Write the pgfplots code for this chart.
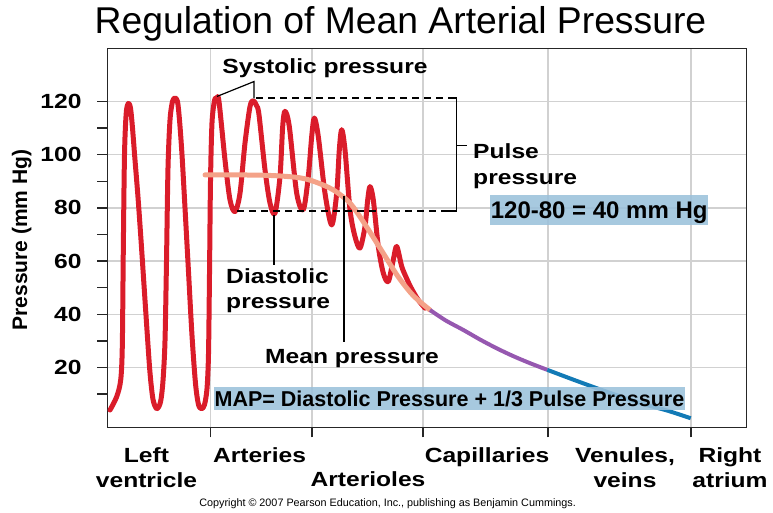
\documentclass[border=0pt]{standalone}
\usepackage{fontspec}
\setmainfont{Liberation Sans}
\usepackage{graphicx}
\usepackage{pgfplots}
\pgfplotsset{compat=1.18}
\definecolor{bpred}{RGB}{218,28,42}
\definecolor{salmon}{RGB}{244,162,136}
\definecolor{mpurple}{RGB}{150,88,176}
\definecolor{mblue}{RGB}{18,122,182}
\definecolor{hl}{RGB}{155,193,219}
\newcommand{\lab}{\fontsize{20.5}{25}\selectfont\bfseries}
\begin{document}
\begin{tikzpicture}
\useasboundingbox (-107.5pt,-85.7pt) rectangle (665.5pt,427.3pt);
\begin{axis}[
  scale only axis, width=639.2pt, height=379pt,
  xmin=107.5, xmax=746.7, ymin=-2.5, ymax=140,
  clip=false,
  axis lines=box,
  axis line style={draw=black!85, line width=1.3pt},
  xtick pos=bottom, ytick pos=left,
  ytick={20,40,...,120}, minor ytick={10,30,...,110},
  tick align=outside, major tick length=10pt, minor tick length=10pt,
  tick style={black!85, line width=1.3pt},
  ymajorgrids, xmajorgrids,
  grid style={draw=black!18, line width=1.4pt},
  xtick={210.5,312,423,548,691},
  xticklabels={,,,,},
  extra x ticks={146.5,259.5,368,487,625,730},
  extra x tick labels={{Left\\ventricle},{Arteries},{\vphantom{L}\\Arterioles},{Capillaries},{Venules,\\veins},{Right\\atrium}},
  extra x tick style={grid=none, tick style={draw=none}},
  xticklabel style={font=\lab, align=center, xscale=1.2, anchor=north, inner sep=0pt, yshift=-10pt},
  yticklabel={\scalebox{1.2}[1]{\pgfmathprintnumber{\tick}}},
  yticklabel style={font=\lab, anchor=east, inner sep=0pt, xshift=-15.8pt},
  /pgf/number format/assume math mode=true,
  ylabel={Pressure (mm Hg)},
  ylabel style={font=\fontsize{21}{24}\selectfont\bfseries, at={(axis description cs:-0.1342,0.494)}, anchor=center},
]
% pressure wave
\addplot[bpred, line width=5pt, smooth, tension=0.5, line join=round, line cap=round] coordinates {
(110,4) (116.7,9) (120.7,15.3) (122.3,28) (123.3,64) (124.5,100) (126.2,115.5) (128.3,119.3) (130.5,117.5) (132.5,110)
(135,98) (138,84) (141,68) (144,51) (147,34) (150,18) (153,8) (156.7,4.5)
(160.5,7) (163,15) (165,30) (166.5,60) (168,95) (170,113) (172.5,120) (175,121.3) (177.5,120) (179.5,113)
(182,100) (185,80) (188.5,56) (192,32) (195.5,14) (198.5,6) (201.7,4.5) (204.5,6) (207,12) (208.5,25)
(209.5,55) (210.5,90) (212,112) (214.5,120.3) (216.7,121.3) (219,120) (225,98) (230,83) (235,78.6) (240,85.5)
(245,104.4) (250,118.1) (253.3,120.3) (256.5,118.5) (259,115) (265,94.3) (270,81.8) (275,78) (280,91.8) (282.7,110.6)
(285,116.3) (289.3,110.6) (296.7,85.5) (303.3,79.3) (308.3,91.8) (311.7,106.8) (314.3,113.8) (318.3,106.8) (325,85.5) (331.7,73.6)
(336.7,85.5) (339.3,101.8) (341.7,109.4) (345,101.8) (350,79.3) (355,69.2) (360,64.9) (365,73) (367.7,83) (370,88)
(373.3,83) (378.3,65.5) (383.3,55.5) (388.3,52.3) (393.3,60.5) (396.7,65.5) (401.7,58) (406,54) (411,50) (418,45.5) (425,42.3)
};
% mean pressure
\addplot[salmon, line width=5pt, smooth, line cap=round] coordinates {
(205,92.4) (230,92.4) (260,92.3) (280,92) (300,91.3) (315,89.8) (333,86.8) (350,81.8) (365,73.8) (381.5,64) (398,54.2) (413.3,47) (430,41.6)
};
\addplot[mpurple, line width=4pt, smooth] coordinates {
(430,41.6) (446,37.6) (463.3,34.1) (480,30.5) (496.7,27.2) (513,24.3) (530,21.6) (547.3,19.1)
};
\addplot[mblue, line width=4pt, smooth] coordinates {
(547.3,19.1) (572,15.6) (596.7,12.2) (621,9) (646.7,5.9) (668,3.7) (690.7,0.9)
};
% frame
\draw[black!85, line width=1.3pt] (axis cs:107.5,140) -- (axis cs:746.7,140) -- (axis cs:746.7,-2.5);
% annotations
\draw[black, line width=1.2pt] (axis cs:217,121.9) -- (axis cs:254,127.5) -- (axis cs:254,121.2);
\draw[black, line width=1.2pt, dash pattern=on 7pt off 5pt] (axis cs:256,121.3) -- (axis cs:452,121.3);
\draw[black, line width=1.2pt, dash pattern=on 7pt off 5pt] (axis cs:237,78.8) -- (axis cs:452,78.8);
\draw[black, line width=1.2pt] (axis cs:448,121.3) -- (axis cs:456.7,121.3) -- (axis cs:456.7,78.8) -- (axis cs:443,78.8);
\draw[black, line width=1.2pt] (axis cs:456.7,103.5) -- (axis cs:466.7,103.5);
\draw[black, line width=1.2pt] (axis cs:274,77.4) -- (axis cs:274,58.6);
\draw[black, line width=1.2pt] (axis cs:344,84.3) -- (axis cs:344,29.7);
\node[font=\lab, xscale=1.2, anchor=base] at (axis cs:325,130.7) {Systolic pressure};
\node[font=\lab, xscale=1.2, anchor=base west, inner sep=0pt] at (axis cs:473,98.7) {Pulse};
\node[font=\lab, xscale=1.2, anchor=base west, inner sep=0pt] at (axis cs:473,88.7) {pressure};
\node[font=\lab, xscale=1.2, anchor=base west, inner sep=0pt] at (axis cs:226,51.7) {Diastolic};
\node[font=\lab, xscale=1.2, anchor=base west, inner sep=0pt] at (axis cs:226,42.0) {pressure};
\node[font=\lab, xscale=1.2, anchor=base west, inner sep=0pt] at (axis cs:265,21.6) {Mean pressure};
\node[fill=hl, fill opacity=0.88, text opacity=1, font=\fontsize{24}{28}\selectfont\bfseries, inner xsep=0.5pt, inner ysep=0pt, minimum height=30pt, text depth=0pt] at (axis cs:599.2,79.3) {120-80 = 40 mm Hg};
\node[fill=hl, fill opacity=0.88, text opacity=1, font=\fontsize{21.5}{25}\selectfont\bfseries, inner xsep=0.5pt, inner ysep=0pt, minimum height=23.3pt, text depth=0pt] at (axis cs:449.5,8.4) {MAP= Diastolic Pressure + 1/3 Pulse Pressure};
\end{axis}
\node[font=\fontsize{37.3}{40}\selectfont, anchor=base] at (293pt,394pt) {Regulation of Mean Arterial Pressure};
\node[font=\fontsize{10.8}{12}\selectfont] at (280.1pt,-76.7pt) {Copyright © 2007 Pearson Education, Inc., publishing as Benjamin Cummings.};
\end{tikzpicture}
\end{document}
